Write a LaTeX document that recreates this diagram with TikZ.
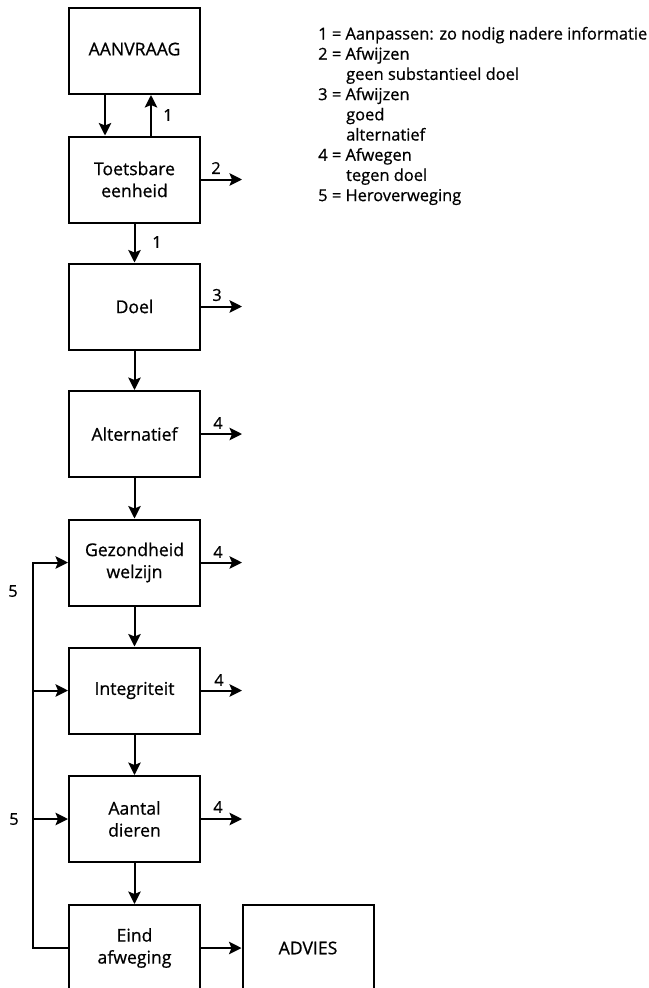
\documentclass[tikz,border=0pt]{standalone}
\usepackage{fontspec}
\setmainfont{Open Sans}[FakeBold=0.7]
\usetikzlibrary{arrows.meta,calc}
\newlength{\legw}
\newlength{\boxw}
\newcommand{\fsz}{\fontsize{\fsv}{20.2}\selectfont}
\newcommand{\bfsz}{\fontsize{\bfsv}{22}\selectfont}
\tikzset{
  box/.style={draw, line width=2pt, minimum width=131pt, minimum height=86pt,
    align=center, inner sep=0pt, font=\bfsz},
  arr/.style={line width=2pt, -{Stealth[length=12.5pt,width=12.5pt,inset=2.5pt]}},
  lbl/.style={font=\fsz, inner sep=0pt},
  leg/.style={font=\fsz, inner sep=0pt, anchor=base west},
}
\begin{document}
\settowidth{\legw}{\fontsize{10}{12}\selectfont 1 = Aanpassen: zo nodig nadere informatie}%
\settowidth{\boxw}{\fontsize{10}{12}\selectfont Toetsbare}%
\pgfmathsetmacro{\fsv}{10*329/\legw}%
\pgfmathsetmacro{\bfsv}{10*81/\boxw}%
\begin{tikzpicture}[x=1pt,y=-1pt]
\useasboundingbox[fill=white] (0,0) rectangle (648,988);

% boxes
\node[box] (aan) at (134.5,51) {\raisebox{4pt}{AANVRAAG}};
\node[box] (toe) at (134.5,179.5) {Toetsbare\\eenheid};
\node[box] (doel) at (134.5,306.5) {Doel};
\node[box] (alt) at (134.5,434) {Alternatief};
\node[box] (gez) at (134.5,562.5) {Gezondheid\\welzijn};
\node[box] (int) at (134.5,690.5) {Integriteit};
\node[box] (aant) at (134.5,819) {Aantal\\dieren};
\node[box] (eind) at (134.5,948) {Eind\\afweging};
\node[box] (adv) at (308,948) {\raisebox{-3pt}{ADVIES}};

% top pair
\draw[arr] ([xshift=-29.5pt]aan.south) -- ([xshift=-29.5pt]toe.north);
\draw[arr] ([xshift=16.5pt]toe.north) -- ([xshift=16.5pt]aan.south);
\node[lbl] (l1a) at (168,115) {1};

% vertical chain
\draw[arr] (toe) -- (doel);
\node[lbl] (l1b) at (157,242) {1};
\draw[arr] (doel) -- (alt);
\draw[arr] (alt) -- (gez);
\draw[arr] (gez) -- (int);
\draw[arr] (int) -- (aant);
\draw[arr] (aant) -- (eind);
\draw[arr] (eind) -- (adv);

% right exits
\coordinate (e2) at ([xshift=41pt]toe.east);
\coordinate (e3) at ([xshift=41pt]doel.east);
\coordinate (e4a) at ([xshift=41pt]alt.east);
\coordinate (e4b) at ([xshift=41pt]gez.east);
\coordinate (e4c) at ([xshift=41pt]int.east);
\coordinate (e4d) at ([xshift=41pt]aant.east);
\draw[arr] (toe.east) -- (e2);
\draw[arr] (doel.east) -- (e3);
\draw[arr] (alt.east) -- (e4a);
\draw[arr] (gez.east) -- (e4b);
\draw[arr] (int.east) -- (e4c);
\draw[arr] (aant.east) -- (e4d);
\node[lbl] (n2) at (216,168) {2};
\node[lbl] (n3) at (217,295) {3};
\node[lbl] (n4a) at (218,423) {4};
\node[lbl] (n4b) at (218,552) {4};
\node[lbl] (n4c) at (219,680) {4};
\node[lbl] (n4d) at (218,807) {4};

% feedback loop
\coordinate (fbbot) at (33,948);
\coordinate (fbtop) at (33,562.5);
\draw[arr] (eind.west) -- (fbbot) -- (fbtop) -- (gez.west);
\draw[arr] (fbtop |- int.west) -- (int.west);
\draw[arr] (fbtop |- aant.west) -- (aant.west);
\node[lbl] (n5a) at (13,591) {5};
\node[lbl] (n5b) at (14,819) {5};

% legend
\node[leg] (g1) at (318,39.5) {1 = Aanpassen: zo nodig nadere informatie};
\node[leg] (g2) at (318,59.7) {2 = Afwijzen};
\node[leg] (g3) at (346,79.9) {geen substantieel doel};
\node[leg] (g4) at (318,100.1) {3 = Afwijzen};
\node[leg] (g5) at (346,120.3) {goed};
\node[leg] (g6) at (346,140.5) {alternatief};
\node[leg] (g7) at (318,160.7) {4 = Afwegen};
\node[leg] (g8) at (346,180.9) {tegen doel};
\node[leg] (g9) at (318,201.1) {5 = Heroverweging};
\end{tikzpicture}
\end{document}
